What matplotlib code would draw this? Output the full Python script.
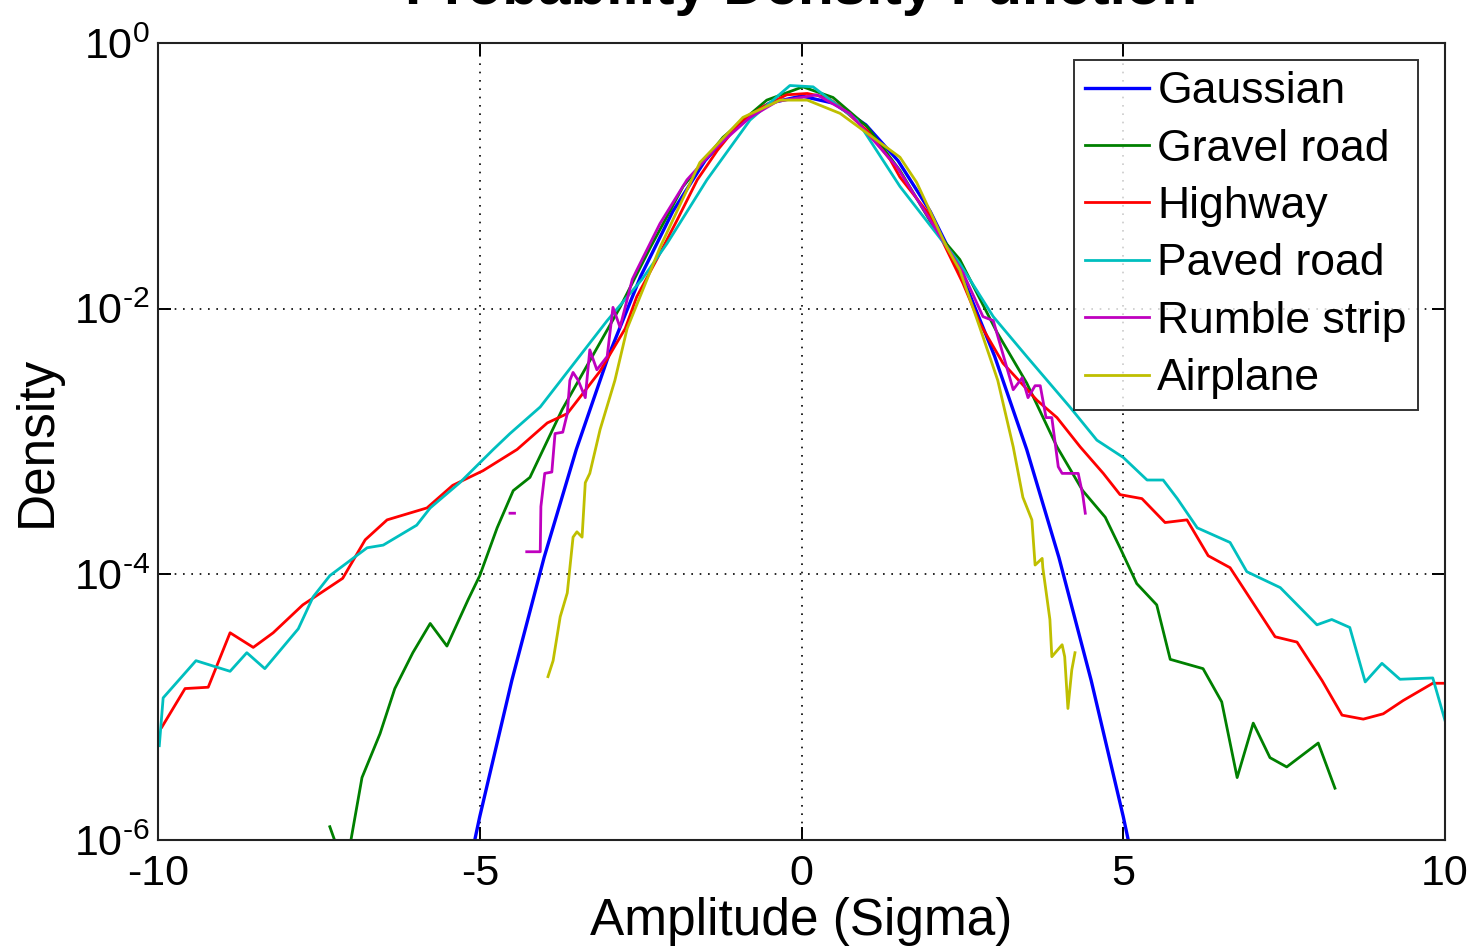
import numpy as np
import matplotlib.pyplot as plt
from matplotlib.ticker import NullLocator

plt.rcParams['font.family'] = ['Liberation Sans', 'DejaVu Sans']
plt.rcParams['axes.unicode_minus'] = False
plt.rcParams['mathtext.fontset'] = 'custom'
plt.rcParams['mathtext.rm'] = 'Liberation Sans'
plt.rcParams['mathtext.it'] = 'Liberation Sans'

# Gaussian reference (density values)
gauss_x = [-5.5, -5.0, -4.5, -4.0, -3.5, -3.0, -2.5, -2.0, -1.5, -1.0, -0.5, 0.0,
           0.5, 1.0, 1.5, 2.0, 2.5, 3.0, 3.5, 4.0, 4.5, 5.0, 5.5]
gauss_y = [1.1e-7, 1.5e-6, 1.6e-5, 1.34e-4, 8.7e-4, 4.4e-3, 1.75e-2, 5.4e-2, 0.130, 0.242, 0.352, 0.399,
           0.352, 0.242, 0.130, 5.4e-2, 1.75e-2, 4.4e-3, 8.7e-4, 1.34e-4, 1.6e-5, 1.5e-6, 1.1e-7]

gravel_x = [-7.33, -7.22, np.nan, -7.02, -6.83, -6.55, -6.32, -6.04, -5.77, -5.51, -5.18, -5.00, -4.73,
            -4.48, -4.22, -3.72, -2.82, -2.35, -1.84, -1.22, -0.54, 0.02, 0.49,
            1.02, 1.53, 2.11, 2.46, 3.04, 3.50, 3.97, 4.37, 4.72, 4.95,
            5.21, 5.52, 5.73, 6.24, 6.53, 6.77, 7.02, 7.28, 7.54, 8.03, 8.29]
gravel_lg = [-5.90, -6.05, np.nan, -6.05, -5.53, -5.20, -4.86, -4.59, -4.37, -4.54, -4.19, -4.01, -3.65,
             -3.37, -3.27, -2.76, -1.99, -1.54, -1.08, -0.71, -0.43, -0.33, -0.41,
             -0.63, -0.96, -1.43, -1.63, -2.18, -2.56, -3.04, -3.37, -3.57, -3.80,
             -4.07, -4.23, -4.64, -4.71, -4.96, -5.53, -5.12, -5.38, -5.45, -5.27, -5.61]

highway_x = [-9.94, -9.58, -9.22, -8.88, -8.52, -8.21, -7.75, -7.13, -6.78, -6.44, -5.82, -5.42, -4.95,
             -4.42, -3.95, -3.64, -3.40, -3.13, -2.74, -2.56, -2.25, -1.93, -1.62, -1.31, -0.96, -0.60,
             -0.23, 0.09, 0.40, 0.60, 1.02, 1.38, 1.53, 2.00, 2.51, 2.77, 3.13, 3.66, 3.97, 4.33, 4.69,
             4.95, 5.29, 5.65, 5.99, 6.32, 6.66, 7.36, 7.70, 8.09, 8.40, 8.73, 9.04, 9.35, 9.81, 10.0]
highway_lg = [-5.15, -4.86, -4.85, -4.44, -4.55, -4.44, -4.23, -4.03, -3.74, -3.59, -3.50, -3.33, -3.22,
              -3.06, -2.86, -2.79, -2.64, -2.47, -2.15, -1.91, -1.63, -1.33, -1.03, -0.81, -0.60, -0.48,
              -0.39, -0.38, -0.41, -0.48, -0.66, -0.88, -1.01, -1.30, -1.81, -2.11, -2.41, -2.69, -2.82, -3.04, -3.24,
              -3.40, -3.43, -3.61, -3.59, -3.86, -3.95, -4.47, -4.51, -4.80, -5.06, -5.09, -5.05, -4.95, -4.82, -4.82]

paved_x = [-9.98, -9.92, -9.41, -8.88, -8.62, -8.34, -7.82, -7.59, -7.33, -6.75,
           -6.50, -5.98, -5.77, -5.31, -4.79, -4.53, -4.06, -3.02, -2.48, -2.09,
           -1.47, -0.80, -0.18, 0.18, 0.86, 1.53, 2.46, 2.98, 3.50, 4.17,
           4.59, 5.00, 5.37, 5.62, 5.84, 6.15, 6.66, 6.92, 7.44, 8.01,
           8.24, 8.52, 8.76, 9.02, 9.30, 9.81, 10.0]
paved_lg = [-5.29, -4.93, -4.65, -4.73, -4.59, -4.71, -4.41, -4.17, -4.01, -3.80,
            -3.78, -3.63, -3.50, -3.31, -3.06, -2.94, -2.74, -2.09, -1.78, -1.51,
            -1.03, -0.58, -0.32, -0.33, -0.58, -1.08, -1.66, -2.06, -2.36, -2.74,
            -2.99, -3.12, -3.29, -3.29, -3.43, -3.65, -3.76, -3.98, -4.10, -4.38,
            -4.34, -4.40, -4.81, -4.67, -4.79, -4.78, -5.10]

rumble_x = [-4.53, -4.46, np.nan, -4.27, -4.06, -4.05, -3.99, -3.88, -3.83, -3.71,
            -3.64, -3.60, -3.55, -3.47, -3.36, -3.29, -3.18, -3.02, -2.93, -2.82,
            -2.63, -2.56, -2.20, -1.78, -1.31, -0.80, -0.38, 0.24, 0.75, 1.48,
            2.51, 2.82, 2.98, 3.29, 3.43, 3.52, 3.63, 3.71, 3.80, 3.89,
            3.99, 4.05, 4.30, 4.37, 4.41]
rumble_lg = [-3.54, -3.54, np.nan, -3.83, -3.83, -3.49, -3.24, -3.23, -2.94, -2.93,
             -2.79, -2.54, -2.48, -2.54, -2.67, -2.31, -2.46, -2.36, -1.99, -2.14,
             -1.78, -1.71, -1.36, -1.03, -0.78, -0.56, -0.44, -0.39, -0.53, -0.93,
             -1.73, -2.06, -2.09, -2.61, -2.52, -2.67, -2.58, -2.58, -2.82, -2.82,
             -3.19, -3.24, -3.24, -3.40, -3.54]

airplane_x = [-3.94, -3.86, -3.75, -3.64, -3.55, -3.49, -3.41, -3.36, -3.29, -3.13,
              -2.90, -2.71, -2.20, -1.58, -0.91, -0.33, 0.09, 0.60, 1.53, 1.79,
              2.26, 2.46, 2.77, 3.05, 3.29, 3.44, 3.58, 3.63, 3.74, 3.75,
              3.86, 3.89, 4.05, 4.09, 4.14, 4.20, 4.25]
airplane_lg = [-4.77, -4.65, -4.32, -4.14, -3.72, -3.68, -3.72, -3.31, -3.24, -2.91,
               -2.54, -2.15, -1.54, -0.90, -0.56, -0.43, -0.43, -0.53, -0.86, -1.05,
               -1.54, -1.71, -2.14, -2.54, -3.04, -3.42, -3.59, -3.93, -3.88, -3.95,
               -4.34, -4.62, -4.53, -4.62, -5.01, -4.72, -4.59]

xticks = [-10, -5, 0, 5, 10]
xtick_labels = ['-10', '-5', '0', '5', '10']
yticks = [1e-6, 1e-4, 1e-2, 1e0]
# hyphen (U+2010) in the exponent, as the original shows "-2" rather than a long minus
ytick_labels = ['$\\mathregular{10^{\u20106}}$', '$\\mathregular{10^{\u20104}}$',
                '$\\mathregular{10^{\u20102}}$', '$\\mathregular{10^{0}}$']

fig = plt.figure(figsize=(14.76, 9.51), dpi=100)
ax = fig.add_axes([0.10705, 0.11672, 0.87195, 0.83806])

ax.plot(gauss_x, gauss_y, color=(0, 0, 1), lw=2.4, label='Gaussian')
ax.plot(gravel_x, 10 ** np.array(gravel_lg), color=(0, 0.5, 0), lw=2.0, label='Gravel road')
ax.plot(highway_x, 10 ** np.array(highway_lg), color=(1, 0, 0), lw=2.0, label='Highway')
ax.plot(paved_x, 10 ** np.array(paved_lg), color=(0, 0.75, 0.75), lw=2.0, label='Paved road')
ax.plot(rumble_x, 10 ** np.array(rumble_lg), color=(0.75, 0, 0.75), lw=2.0, label='Rumble strip')
ax.plot(airplane_x, 10 ** np.array(airplane_lg), color=(0.75, 0.75, 0), lw=2.0, label='Airplane')

ax.set_yscale('log')
ax.set_xlim(-10, 10)
ax.set_ylim(1e-6, 1e0)
ax.set_xticks(xticks)
ax.set_xticklabels(xtick_labels)
ax.set_yticks(yticks)
ax.set_yticklabels(ytick_labels)
ax.yaxis.set_minor_locator(NullLocator())

ax.grid(True, color='black', linestyle=(0, (1, 4)), linewidth=1.2)
ax.set_axisbelow(True)
ax.tick_params(direction='in', length=9.3, width=1.4, top=True, right=True,
               labelsize=31, colors='black')
ax.tick_params(axis='x', pad=10)
ax.tick_params(axis='y', pad=6)
for s in ax.spines.values():
    s.set_linewidth(1.5)
    s.set_color('#222222')

ax.set_xlabel('Amplitude (Sigma)', fontsize=37)
ax.set_ylabel('Density', fontsize=37)
ax.xaxis.set_label_coords(0.5, -0.072)
ax.yaxis.set_label_coords(-0.0746, 0.5)

# title sits mostly above the top edge, as in the original
fig.text(801.5 / 1476, 1 - 4 / 951, 'Probability Density Function', ha='center', va='baseline',
         fontsize=42, fontweight='bold')

leg = ax.legend(loc='upper right', bbox_to_anchor=(0.979, 0.9787), borderaxespad=0,
                fontsize=32, frameon=True, fancybox=False, handlelength=1.45,
                handletextpad=0.18, labelspacing=0.37, borderpad=0.25)
leg.get_frame().set_edgecolor('black')
leg.get_frame().set_linewidth(1.4)

fig.savefig('out.png', dpi=100)
